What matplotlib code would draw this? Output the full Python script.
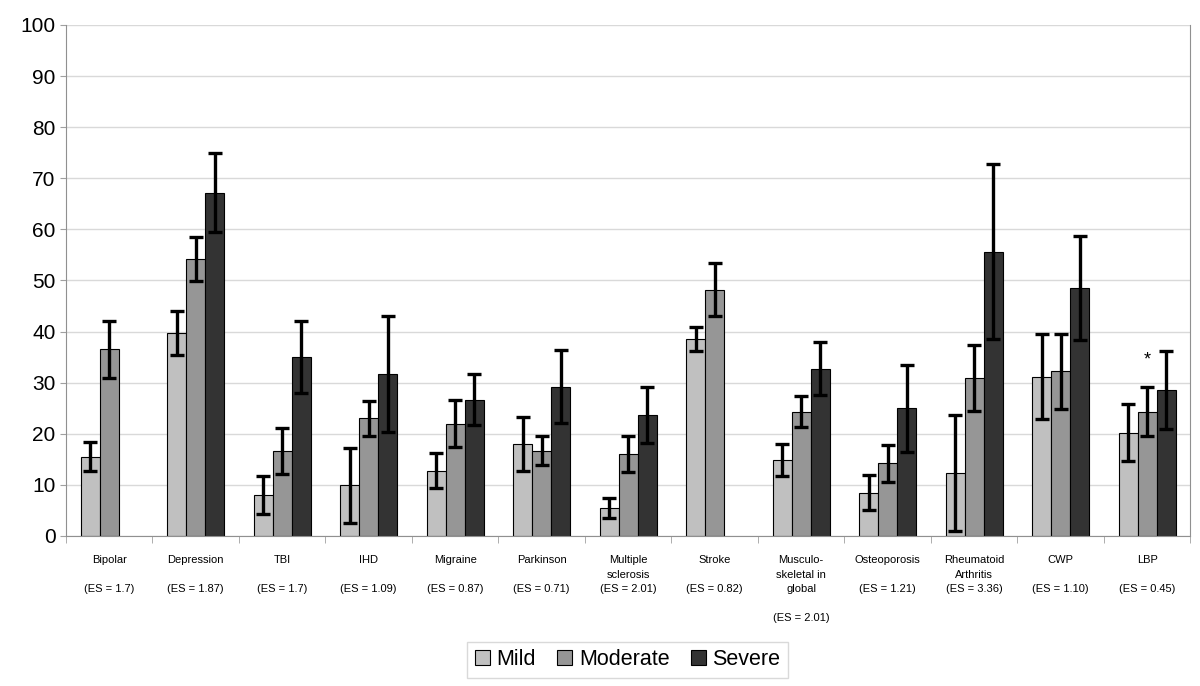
## Severity by condition - grouped bar chart with error bars
import numpy as np
import matplotlib.pyplot as plt

plt.rcParams['font.family'] = ['Liberation Sans', 'DejaVu Sans']

## Data
labels = ['Bipolar\n\n(ES = 1.7)', 'Depression\n\n(ES = 1.87)', 'TBI\n\n(ES = 1.7)',
          'IHD\n\n(ES = 1.09)', 'Migraine\n\n(ES = 0.87)', 'Parkinson\n\n(ES = 0.71)',
          'Multiple\nsclerosis\n(ES = 2.01)', 'Stroke\n\n(ES = 0.82)',
          'Musculo-\nskeletal in\nglobal\n\n(ES = 2.01)', 'Osteoporosis\n\n(ES = 1.21)',
          'Rheumatoid\nArthritis\n(ES = 3.36)', 'CWP\n\n(ES = 1.10)', 'LBP\n\n(ES = 0.45)']

mild = [15.5, 39.8, 8.0, 9.9, 12.8, 18.0, 5.5, 38.5, 14.8, 8.5, 12.3, 31.2, 20.2]
mild_err = [2.8, 4.3, 3.7, 7.3, 3.5, 5.2, 2.0, 2.4, 3.1, 3.5, 11.3, 8.3, 5.6]

moderate = [36.5, 54.2, 16.7, 23.0, 22.0, 16.7, 16.1, 48.2, 24.3, 14.2, 30.9, 32.2, 24.3]
moderate_err = [5.6, 4.3, 4.5, 3.5, 4.6, 2.9, 3.5, 5.2, 3.0, 3.6, 6.4, 7.3, 4.8]

severe = [np.nan, 67.2, 35.0, 31.7, 26.7, 29.2, 23.7, np.nan, 32.7, 25.0, 55.6, 48.5, 28.5]
severe_err = [np.nan, 7.7, 7.0, 11.3, 5.0, 7.1, 5.5, np.nan, 5.2, 8.5, 17.1, 10.1, 7.6]

series = [('Mild', mild, mild_err, '#c0c0c0'),
          ('Moderate', moderate, moderate_err, '#969696'),
          ('Severe', severe, severe_err, '#333333')]

## Plot
fig = plt.figure(figsize=(12, 6.86), dpi=100)
ax = fig.add_axes([0.055, 0.2187, 0.937, 0.745])

x = np.arange(len(labels))
w = 0.22
for k, (name, vals, errs, col) in enumerate(series):
    pos = x + (k - 1) * w
    ax.bar(pos, vals, w, color=col, edgecolor='black', linewidth=0.8, label=name, zorder=2)
    ax.errorbar(pos, vals, yerr=errs, fmt='none', ecolor='black', elinewidth=2.4,
                capsize=5, capthick=2.4, zorder=3)

# asterisk above LBP moderate
ax.text(x[-1], 34.5, '*', ha='center', va='center', fontsize=13)

ax.set_xlim(-0.5, len(labels) - 0.5)
ax.set_ylim(0, 100)
ax.set_yticks(range(0, 101, 10))
ax.yaxis.grid(True, color='#d9d9d9', linewidth=1, zorder=0)
ax.set_axisbelow(True)

ax.set_xticks(x)
ax.set_xticklabels(labels, fontsize=8, linespacing=1.55, va='top')
ax.set_xticks(np.arange(-0.5, len(labels), 1), minor=True)
ax.tick_params(axis='x', which='major', length=0, pad=14)
ax.tick_params(axis='x', which='minor', length=5, color='#a0a0a0')
ax.tick_params(axis='y', labelsize=15, length=4, color='#a0a0a0')

for s in ['left', 'bottom', 'right']:
    ax.spines[s].set_color('#909090')
ax.spines['top'].set_visible(False)

leg = fig.legend(loc='lower center', bbox_to_anchor=(0.523, -0.004), ncol=3, fontsize=15.5,
                 frameon=True, fancybox=False, edgecolor='#d0d0d0', handlelength=0.7,
                 handleheight=0.7, handletextpad=0.3, columnspacing=1.0, borderpad=0.35)

plt.savefig('out.png', dpi=100)
